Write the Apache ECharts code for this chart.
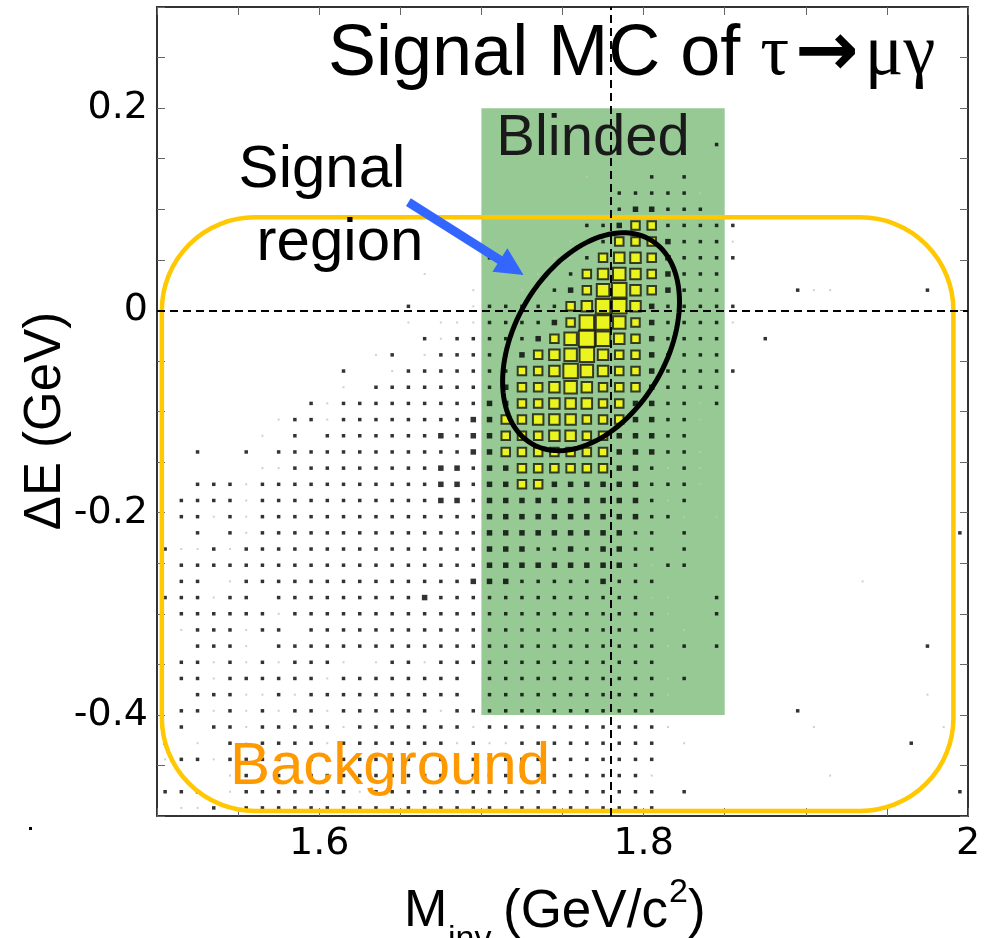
<!DOCTYPE html>
<html>
<head>
<meta charset="utf-8">
<script src="https://cdn.jsdelivr.net/npm/echarts@6.0.0/dist/echarts.min.js"></script>
<style>
    html, body { margin: 0; padding: 0; background: #fff; }
    #chart { width: 991px; height: 938px; }
</style>
</head>
<body>
<div id="chart"></div>
<script>
// histogram frame: 50 x 50 bins
const X_MIN = 1.5, X_MAX = 2.0, X_BINS = 50
const Y_MIN = -0.5, Y_MAX = 0.3, Y_BINS = 50

// bin contents, one string per row, top row first.
// '.' empty, '1' faint speck, '2'..'8' growing box size
const boxRows = [
    '.......... .......... .......... .......... ..........',
    '.......... .......... .......... .......... ..........',
    '.......... .......... .......... .......... ..........',
    '.......... .......... .......... .......... ..........',
    '.......... .......... .......... .......... ..........',
    '.......... .......... .......... .......... ..........',
    '.......... .......... .......... .......... ..........',
    '.......... .......... .......... .......... ..........',
    '.......... .......... .......... ....2..... ..........',
    '.......... .......... .......... .......... ..........',
    '.......... .......... ......1... 2.2....... ..........',
    '.......... .......... ........22 2221...... ..........',
    '.......... .......... ........23 3222...... ..........',
    '.......... .......... ......2234 422222.... ..........',
    '.......... .......... .....1.244 432221.... ..........',
    '.......... .......... 2...112455 432222.... ..........',
    '.......... ......1... ...1.24565 43222..... ..........',
    '.......... .........1 ..1.234675 43222....2 11.....2..',
    '.......... .....2...1 2222245775 322222.... ..........',
    '.......... .....1.111 2222347764 322221.... ..........',
    '.......... ......2122 2223468754 32222..2.. ..........',
    '.......... ...12.1222 2234567544 32222..... ..........',
    '.......... .2..122222 2244576544 322222.... ..........',
    '.......... .1.2222222 2344565444 32222..... ..........',
    '.........2 1222222222 3344555443 32212..... ..........',
    '.......122 1222222223 3445554443 3221...... ..........',
    '......1.2. 2222222323 3444554433 322....... ..........',
    '..2..2.222 2222222223 3444444433 3221...... ..........',
    '......1122 2222222332 3344444433 2121...... ..........',
    '..22212222 2222222332 3344333333 2221...... ..........',
    '.222212222 2222222332 3333333333 212....... ..........',
    '.221212222 2222222222 3333333333 221.1..... ..........',
    '..2.212222 2222222222 3333333332 2.2....... .........2',
    '2112122222 2222222222 3332232332 2.2....... ..........',
    '.222222222 2222222222 3333333332 122....... ..........',
    '.22.122222 2222222223 3322222322 2......... ...1......',
    '222122.222 2222223222 2222222222 11..2..... ..........',
    '.222222122 2222222222 2222222222 21..2..... ..........',
    '.1222122.2 2222222222 2222222222 2.1....... ..........',
    '..2221.222 2222222222 2222222222 212.2..... .......2..',
    '.221212122 21.1221222 2222222222 2......... ..........',
    '.221222222 122222222. 2222222222 212....... ..........',
    '..22211212 222222222. 2222222222 21........ .......1..',
    '.221212122 1222222122 2222222222 2........2 ..........',
    '.2.2212222 2122222221 2222222222 21........ 1.......1.',
    '2.1.212222 1222222212 1122222222 2.1....... ......2...',
    '1221222222 2222222222 2222222222 2......... ..........',
    '.1..122222 2222222222 2222222222 1......... .1........',
    '222.122222 2212222222 2222222222 2.2....... .........2',
    '.112.22222 2222222222 2222222222 2......... ..........'
]

// overlays, in data coordinates
const TAU_MASS = 1.777
const blindedBox = [1.70, -0.40, 1.85, 0.20]        // xmin, ymin, xmax, ymax
const backgroundBox = [1.503, -0.495, 1.991, 0.092]
const ellipseCenter = [1.7676, -0.031]
const ellipseAxisA = [0.0364, 0.101]                 // half major axis
const ellipseAxisB = [0.0406, -0.0376]               // half minor axis
const arrowLine = [1.655, 0.107, 1.726, 0.035]       // tail x,y -> tip x,y

const xLabelValues = [1.6, 1.8, 2.0]
const xLabelTexts = ['1.6', '1.8', '2']
const yLabelValues = [0.2, 0, -0.2, -0.4]
const yLabelTexts = ['0.2', '0', '-0.2', '-0.4']

const LEVEL_SIZE = [0, 2, 3.5, 5.5, 8.5, 10.5, 12.5, 14.5, 16]

function buildCells() {
    let xStep = (X_MAX - X_MIN) / X_BINS
    let yStep = (Y_MAX - Y_MIN) / Y_BINS
    let cells = []
    boxRows.forEach((row, r) => {
        let s = row.replace(/ /g, '')
        let j = Y_BINS - 1 - r
        for (let i = 0; i < X_BINS; i++) {
            let c = s[i]
            if (!c || c === '.') continue
            let level = +c
            let style
            if (level === 1) {
                style = { color: '#c4c4c4' }
            } else if (level <= 3) {
                style = { color: '#000' }
            } else {
                style = { color: '#ffff00', borderColor: '#111', borderWidth: 2 }
            }
            cells.push({
                value: [X_MIN + (i + 0.5) * xStep, Y_MIN + (j + 0.5) * yStep, level],
                itemStyle: style
            })
        }
    })
    return cells
}

function labelFor(values, texts) {
    return function (v) {
        for (let k = 0; k < values.length; k++) {
            if (Math.abs(v - values[k]) < 1e-6) return texts[k]
        }
        return ''
    }
}

const frameAxis = {
    axisLine: { show: true, onZero: false, lineStyle: { color: '#333', width: 2 } },
    axisTick: { show: true, inside: true, length: 8, lineStyle: { color: '#666', width: 1 } },
    splitLine: { show: false }
}

const tickFont = { fontFamily: 'DejaVu Sans', fontSize: 38, color: '#000' }

let chart = echarts.init(document.getElementById('chart'), null, { renderer: 'canvas' })

let option = {
    animation: false,
    backgroundColor: '#fff',
    grid: { left: 157, right: 23, top: 7, bottom: 122, containLabel: false, outerBoundsMode: 'none' },
    xAxis: [
        Object.assign({
            type: 'value', min: X_MIN, max: X_MAX, interval: 0.05, position: 'bottom',
            axisLabel: Object.assign({ margin: 9, formatter: labelFor(xLabelValues, xLabelTexts),
                showMinLabel: true, showMaxLabel: true, hideOverlap: false }, tickFont)
        }, frameAxis),
        Object.assign({
            type: 'value', min: X_MIN, max: X_MAX, interval: 0.05, position: 'top',
            axisLabel: { show: false }
        }, frameAxis)
    ],
    yAxis: [
        Object.assign({
            type: 'value', min: Y_MIN, max: Y_MAX, interval: 0.05, position: 'left',
            axisLabel: Object.assign({ margin: 9, formatter: labelFor(yLabelValues, yLabelTexts),
                hideOverlap: false }, tickFont)
        }, frameAxis),
        Object.assign({
            type: 'value', min: Y_MIN, max: Y_MAX, interval: 0.05, position: 'right',
            axisLabel: { show: false }
        }, frameAxis)
    ],
    series: [
        {
            // blinded region
            type: 'custom', z: 1, silent: true,
            data: [blindedBox],
            encode: { x: [0, 2], y: [1, 3] },
            renderItem: (params, api) => {
                let p0 = api.coord([api.value(0), api.value(3)])
                let p1 = api.coord([api.value(2), api.value(1)])
                return {
                    type: 'rect',
                    shape: { x: p0[0], y: p0[1], width: p1[0] - p0[0], height: p1[1] - p0[1] },
                    style: { fill: '#97c995' }
                }
            }
        },
        {
            type: 'scatter', z: 3, silent: true,
            symbol: 'rect',
            symbolSize: v => LEVEL_SIZE[v[2]],
            data: buildCells(),
            markLine: {
                silent: true, symbol: 'none', animation: false,
                label: { show: false },
                lineStyle: { color: '#000', type: [8, 5], width: 2 },
                data: [{ xAxis: TAU_MASS }, { yAxis: 0 }]
            }
        },
        {
            // background box
            type: 'custom', z: 4, silent: true,
            data: [backgroundBox],
            encode: { x: [0, 2], y: [1, 3] },
            renderItem: (params, api) => {
                let p0 = api.coord([api.value(0), api.value(3)])
                let p1 = api.coord([api.value(2), api.value(1)])
                return {
                    type: 'rect',
                    shape: { x: p0[0], y: p0[1], width: p1[0] - p0[0], height: p1[1] - p0[1], r: 93 },
                    style: { fill: 'none', stroke: '#ffc800', lineWidth: 4.5 }
                }
            }
        },
        {
            // signal region ellipse
            type: 'custom', z: 5, silent: true,
            data: [ellipseCenter],
            renderItem: (params, api) => {
                let cx = api.value(0), cy = api.value(1)
                let pts = []
                for (let k = 0; k < 120; k++) {
                    let t = k / 120 * Math.PI * 2
                    pts.push(api.coord([
                        cx + ellipseAxisA[0] * Math.cos(t) + ellipseAxisB[0] * Math.sin(t),
                        cy + ellipseAxisA[1] * Math.cos(t) + ellipseAxisB[1] * Math.sin(t)
                    ]))
                }
                return {
                    type: 'polygon',
                    shape: { points: pts },
                    style: { fill: 'none', stroke: '#000', lineWidth: 5 }
                }
            }
        },
        {
            // arrow to the signal region
            type: 'custom', z: 6, silent: true,
            data: [arrowLine],
            encode: { x: [0, 2], y: [1, 3] },
            renderItem: (params, api) => {
                let a = api.coord([api.value(0), api.value(1)])
                let b = api.coord([api.value(2), api.value(3)])
                let dx = b[0] - a[0], dy = b[1] - a[1]
                let len = Math.hypot(dx, dy)
                let ux = dx / len, uy = dy / len
                let nx = -uy, ny = ux
                let hw = 4.5, hl = 28, hh = 14
                let bx = b[0] - ux * hl, by = b[1] - uy * hl
                return {
                    type: 'polygon',
                    shape: {
                        points: [
                            [a[0] + nx * hw, a[1] + ny * hw],
                            [bx + nx * hw, by + ny * hw],
                            [bx + nx * hh, by + ny * hh],
                            [b[0], b[1]],
                            [bx - nx * hh, by - ny * hh],
                            [bx - nx * hw, by - ny * hw],
                            [a[0] - nx * hw, a[1] - ny * hw]
                        ]
                    },
                    style: { fill: '#3366ff' }
                }
            }
        }
    ],
    graphic: [
        {
            type: 'text', x: 328, y: 55, z: 100,
            style: {
                text: '{s|Signal MC of }{g|τ}{a|→}{g|μγ}',
                align: 'left', verticalAlign: 'middle',
                textAlign: 'left', textVerticalAlign: 'middle',
                rich: {
                    s: { fontFamily: 'Liberation Sans', fontSize: 72, fill: '#000', color: '#000' },
                    g: { fontFamily: 'Liberation Serif', fontSize: 72, fill: '#000', color: '#000' },
                    a: { fontFamily: 'DejaVu Sans', fontWeight: 'bold', fontSize: 76, fill: '#000', color: '#000',
                         padding: [0, 6, 0, 6] }
                }
            }
        },
        {
            type: 'text', x: 593, y: 139, z: 100,
            style: { text: 'Blinded', fontFamily: 'Liberation Sans', fontSize: 58, fill: '#1a1a1a',
                     align: 'center', verticalAlign: 'middle', textAlign: 'center', textVerticalAlign: 'middle' }
        },
        {
            type: 'text', x: 322, y: 170, z: 100,
            style: { text: 'Signal', fontFamily: 'Liberation Sans', fontSize: 60, fill: '#000',
                     align: 'center', verticalAlign: 'middle', textAlign: 'center', textVerticalAlign: 'middle' }
        },
        {
            type: 'text', x: 340, y: 243, z: 100,
            style: { text: 'region', fontFamily: 'Liberation Sans', fontSize: 60, fill: '#000',
                     align: 'center', verticalAlign: 'middle', textAlign: 'center', textVerticalAlign: 'middle' }
        },
        {
            type: 'text', x: 390, y: 767, z: 100,
            style: { text: 'Background', fontFamily: 'Liberation Sans', fontSize: 60, fill: '#ff9900',
                     align: 'center', verticalAlign: 'middle', textAlign: 'center', textVerticalAlign: 'middle' }
        },
        {
            type: 'text', x: 46, y: 421, z: 100, rotation: Math.PI / 2,
            style: { text: 'ΔE (GeV)', fontFamily: 'Liberation Sans', fontSize: 51, fill: '#000',
                     align: 'center', verticalAlign: 'middle', textAlign: 'center', textVerticalAlign: 'middle' }
        },
        // x axis title, M_inv (GeV/c^2)
        {
            type: 'text', x: 404, y: 912, z: 100,
            style: { text: 'M', fontFamily: 'Liberation Sans', fontSize: 52, fill: '#000',
                     align: 'left', verticalAlign: 'middle', textAlign: 'left', textVerticalAlign: 'middle' }
        },
        {
            type: 'text', x: 448, y: 940, z: 100,
            style: { text: 'inv', fontFamily: 'Liberation Sans', fontSize: 34, fill: '#000',
                     align: 'left', verticalAlign: 'middle', textAlign: 'left', textVerticalAlign: 'middle' }
        },
        {
            type: 'text', x: 503, y: 912, z: 100,
            style: { text: '(GeV/c', fontFamily: 'Liberation Sans', fontSize: 53, fill: '#000',
                     align: 'left', verticalAlign: 'middle', textAlign: 'left', textVerticalAlign: 'middle' }
        },
        {
            type: 'text', x: 669, y: 893, z: 100,
            style: { text: '2', fontFamily: 'Liberation Sans', fontSize: 34, fill: '#000',
                     align: 'left', verticalAlign: 'middle', textAlign: 'left', textVerticalAlign: 'middle' }
        },
        {
            type: 'text', x: 688, y: 912, z: 100,
            style: { text: ')', fontFamily: 'Liberation Sans', fontSize: 53, fill: '#000',
                     align: 'left', verticalAlign: 'middle', textAlign: 'left', textVerticalAlign: 'middle' }
        },
        {
            type: 'rect', x: 29, y: 827, z: 100,
            shape: { width: 3, height: 3 },
            style: { fill: '#000' }
        }
    ]
}

chart.setOption(option)
</script>
</body>
</html>
